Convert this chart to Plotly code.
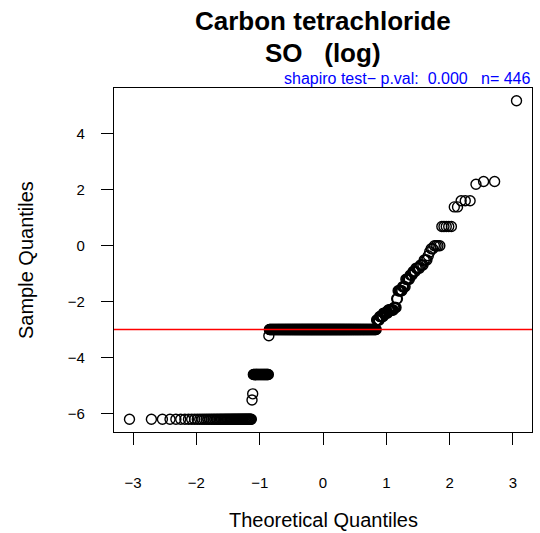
import plotly.graph_objects as go
from statistics import NormalDist

# Sorted sample values (log scale) and how many observations sit at each level
levels = [-6.21, -5.52, -5.30, -4.61, -3.22, -3.00,
          -2.66, -2.53, -2.41, -2.30, -2.21, -1.90, -1.61, -1.47,
          -1.20, -1.05, -0.92, -0.80, -0.69, -0.51, -0.36, -0.22, -0.11,
          0.00, 0.69, 1.39, 1.61, 2.20, 2.30, 5.19]
counts = [58, 1, 1, 27, 1, 269,
          6, 7, 8, 9, 4, 2, 6, 4,
          5, 3, 3, 4, 3, 3, 1, 1, 2,
          4, 5, 2, 3, 1, 2, 1]
ref_line = -3.0
x_ticks = [-3, -2, -1, 0, 1, 2, 3]
y_ticks = [-6, -4, -2, 0, 2, 4]

sample = []
for v, c in zip(levels, counts):
    sample += [v] * c
n = len(sample)
nd = NormalDist()
theo = [nd.inv_cdf((i + 0.5) / n) for i in range(n)]  # qqnorm ppoints

xr = [min(theo), max(theo)]
yr = [min(sample), max(sample)]
xpad = (xr[1] - xr[0]) * 0.04
ypad = (yr[1] - yr[0]) * 0.04

FONT = "Liberation Sans, Arial, sans-serif"

fig = go.Figure()
fig.add_trace(go.Scatter(
    x=theo, y=sample, mode="markers",
    marker=dict(symbol="circle-open", size=10, color="black",
                line=dict(width=1.4, color="black")),
    hoverinfo="skip", showlegend=False))

fig.add_shape(type="line", xref="paper", yref="y", x0=0, x1=1,
              y0=ref_line, y1=ref_line, line=dict(color="red", width=1.5))

axis_common = dict(showgrid=False, zeroline=False, showline=True, mirror=True,
                   linecolor="black", linewidth=1.2, ticks="outside", ticklen=12,
                   tickwidth=1.2, tickcolor="black",
                   tickfont=dict(family=FONT, size=15, color="black"))

fig.update_xaxes(range=[xr[0] - xpad, xr[1] + xpad], tickvals=x_ticks,
                 ticklabelstandoff=25, **axis_common)
fig.update_yaxes(range=[yr[0] - ypad, yr[1] + ypad], tickvals=y_ticks,
                 ticklabelstandoff=13, **axis_common)

W, H = 540, 533
L, R, T, B = 114, 8, 88, 101
ph = H - T - B
pw = W - L - R

def ypaper(pix):
    return (H - B - pix) / ph

def xpaper(pix):
    return (pix - L) / pw

annotations = [
    dict(text="<b>Carbon tetrachloride</b>", x=0.5, y=ypaper(21), yanchor="middle",
         xref="paper", yref="paper", showarrow=False,
         font=dict(family=FONT, size=26, color="black")),
    dict(text="<b>SO   (log)</b>", x=0.5, y=ypaper(53), yanchor="middle",
         xref="paper", yref="paper", showarrow=False,
         font=dict(family=FONT, size=26, color="black")),
    dict(text="shapiro test\u2212 p.val:  0.000   n= 446", x=1, xanchor="right",
         y=ypaper(79), yanchor="middle", xref="paper", yref="paper", showarrow=False,
         font=dict(family=FONT, size=16, color="blue")),
    dict(text="Theoretical Quantiles", x=0.5, y=ypaper(520), yanchor="middle",
         xref="paper", yref="paper", showarrow=False,
         font=dict(family=FONT, size=20, color="black")),
    dict(text="Sample Quantiles", textangle=-90, x=xpaper(26), xanchor="center",
         y=0.5, xref="paper", yref="paper", showarrow=False,
         font=dict(family=FONT, size=20, color="black")),
]

fig.update_layout(width=W, height=H, margin=dict(l=L, r=R, t=T, b=B),
                  paper_bgcolor="white", plot_bgcolor="white",
                  annotations=annotations, showlegend=False)

fig.write_html("out.html", config={"displayModeBar": False},
               post_script="document.body.style.margin='0px';document.body.style.overflow='hidden';")
